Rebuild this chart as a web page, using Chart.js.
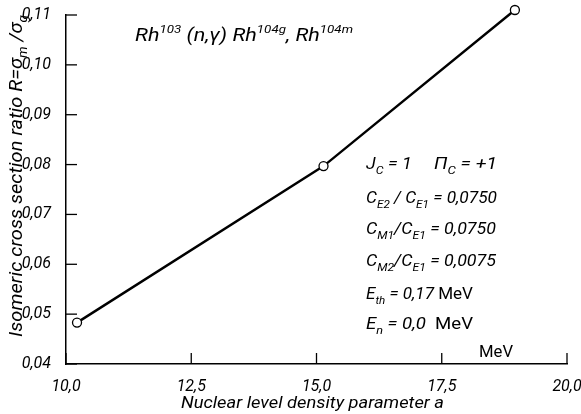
<!DOCTYPE html>
<html>
<head>
  <meta charset="UTF-8">
  <script src="https://cdn.jsdelivr.net/npm/chart.js@4.4.0/dist/chart.umd.min.js"></script>
  <style>
    html, body { margin: 0; padding: 0; background: #fff; }
    #box { width: 581px; height: 414px; }
  </style>
</head>
<body>
<div id="box"><canvas id="myChart"></canvas></div>
<script>
  // data
  let levelDensity = [10.22, 15.14, 18.96];
  let ratioR = [0.0483, 0.0797, 0.1110];
  let xTicks = [10, 12.5, 15, 17.5, 20];
  let yTicks = [0.04, 0.05, 0.06, 0.07, 0.08, 0.09, 0.10, 0.11];

  const FONT = "Roboto, 'Liberation Sans', sans-serif";

  function comma(v, d) {
    return v.toFixed(d).replace('.', ',');
  }

  function runFont(r, size) {
    let s = size;
    if (r[1] == 'sub') s = size * 0.68;
    if (r[1] == 'sup') s = size * 0.62;
    return (r[2] ? '' : 'italic ') + s + 'px ' + FONT;
  }

  function runsWidth(ctx, runs, size) {
    let w = 0;
    runs.forEach(function(r) {
      ctx.font = runFont(r, size);
      w += ctx.measureText(r[0]).width;
    });
    return w;
  }

  // draws a row of text pieces: [text, 'n' | 'sub' | 'sup', upright?]
  // if fitW is given, the row is squeezed/stretched to that width
  function drawRuns(ctx, x, y, runs, size, fitW) {
    let k = 1;
    if (fitW) k = fitW / runsWidth(ctx, runs, size);
    ctx.save();
    ctx.translate(x, y);
    ctx.scale(k, 1);
    let cx = 0;
    runs.forEach(function(r) {
      let dy = 0;
      if (r[1] == 'sub') dy = size * 0.28;
      if (r[1] == 'sup') dy = -size * 0.45;
      ctx.font = runFont(r, size);
      ctx.fillText(r[0], cx, dy);
      cx += ctx.measureText(r[0]).width;
    });
    ctx.restore();
  }

  const extras = {
    id: 'extras',
    afterDraw: function(chart) {
      let ctx = chart.ctx;
      let xs = chart.scales.x, ys = chart.scales.y;
      ctx.save();
      ctx.strokeStyle = '#000';
      ctx.fillStyle = '#000';
      ctx.lineWidth = 1.3;
      // inward tick marks
      xTicks.forEach(function(v) {
        let px = xs.getPixelForValue(v);
        ctx.beginPath();
        ctx.moveTo(px, ys.bottom);
        ctx.lineTo(px, ys.bottom - 11);
        ctx.stroke();
      });
      yTicks.forEach(function(v) {
        let py = ys.getPixelForValue(v);
        ctx.beginPath();
        ctx.moveTo(xs.left, py);
        ctx.lineTo(xs.left + 11, py);
        ctx.stroke();
      });

      ctx.textBaseline = 'alphabetic';
      ctx.textAlign = 'left';

      // reaction title
      drawRuns(ctx, 135, 41, [
        ['Rh', 'n'], ['103', 'sup'], [' (n,γ) Rh', 'n'], ['104g', 'sup'],
        [', Rh', 'n'], ['104m', 'sup']
      ], 18, 218);

      // parameter block
      let x0 = 366;
      drawRuns(ctx, x0, 169, [['J', 'n'], ['C', 'sub'], [' = 1', 'n']], 17, 46);
      drawRuns(ctx, 434, 169, [['Π', 'n'], ['C', 'sub'], [' = +1', 'n']], 17, 63);
      drawRuns(ctx, x0, 203, [['C', 'n'], ['E2', 'sub'], [' / C', 'n'], ['E1', 'sub'], [' = 0,0750', 'n']], 17, 131);
      drawRuns(ctx, x0, 234, [['C', 'n'], ['M1', 'sub'], ['/C', 'n'], ['E1', 'sub'], [' = 0,0750', 'n']], 17, 130);
      drawRuns(ctx, x0, 266, [['C', 'n'], ['M2', 'sub'], ['/C', 'n'], ['E1', 'sub'], [' = 0,0075', 'n']], 17, 130);
      drawRuns(ctx, x0, 299, [['E', 'n'], ['th', 'sub'], [' = 0,17 ', 'n'], ['MeV', 'n', true]], 17, 107);
      drawRuns(ctx, x0, 329, [['E', 'n'], ['n', 'sub'], [' = 0,0  ', 'n'], ['MeV', 'n', true]], 17, 107);

      // unit next to the x axis
      drawRuns(ctx, 479, 357, [['MeV', 'n', true]], 17, 34);

      // x axis title
      drawRuns(ctx, 181, 408, [['Nuclear level density parameter a', 'n']], 17, 263);

      // y axis title, rotated
      ctx.save();
      ctx.translate(22, 337);
      ctx.rotate(-Math.PI / 2);
      drawRuns(ctx, 0, 0, [['Isomeric cross section ratio R=σ', 'n'], ['m', 'sub'], [' /σ', 'n'], ['g', 'sub']], 18, 322);
      ctx.restore();

      ctx.restore();
    }
  };

  let ctx = document.getElementById('myChart').getContext('2d');
  let chart = new Chart(ctx, {
    type: 'line',
    data: {
      datasets: [{
        data: levelDensity.map(function(x, i) { return { x: x, y: ratioR[i] }; }),
        borderColor: '#000',
        borderWidth: 2.4,
        backgroundColor: '#fff',
        pointBackgroundColor: '#fff',
        pointBorderColor: '#000',
        pointBorderWidth: 1.3,
        pointRadius: 4.5,
        tension: 0,
        clip: false
      }]
    },
    options: {
      responsive: true,
      maintainAspectRatio: false,
      animation: false,
      events: [],
      layout: { padding: { top: 15, right: 14, left: 0, bottom: 0 } },
      plugins: {
        legend: { display: false },
        tooltip: { enabled: false }
      },
      scales: {
        x: {
          type: 'linear',
          min: 10,
          max: 20,
          afterFit: function(s) { s.height = 50; s.paddingLeft = 0; s.paddingRight = 0; },
          afterBuildTicks: function(s) { s.ticks = xTicks.map(function(v) { return { value: v }; }); },
          grid: { display: false },
          border: { color: '#000', width: 1.5 },
          ticks: {
            color: '#000',
            padding: 5,
            maxRotation: 0,
            font: { family: FONT, size: 16, style: 'italic' },
            callback: function(v) { return comma(v, 1); }
          }
        },
        y: {
          type: 'linear',
          min: 0.04,
          max: 0.11,
          afterFit: function(s) { s.width = 66; s.paddingTop = 0; s.paddingBottom = 0; },
          afterBuildTicks: function(s) { s.ticks = yTicks.map(function(v) { return { value: v }; }); },
          grid: { display: false },
          border: { color: '#000', width: 1.5 },
          ticks: {
            color: '#000',
            padding: 7,
            font: { family: FONT, size: 16, style: 'italic' },
            callback: function(v) { return comma(v, 2); }
          }
        }
      }
    },
    plugins: [extras]
  });
</script>
</body>
</html>
